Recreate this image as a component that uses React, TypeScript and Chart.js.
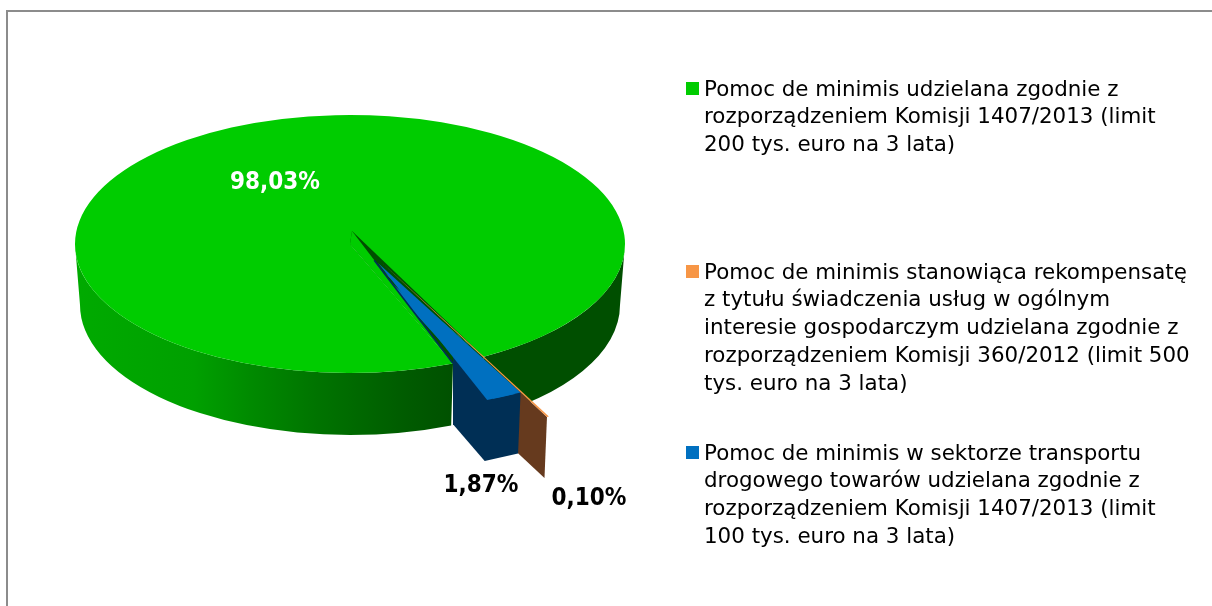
import React, { useEffect, useRef } from "react";
import { Chart, registerables } from "chart.js";

Chart.register(...registerables);

// ---- data ----
const categories = [
  "Pomoc de minimis udzielana zgodnie z rozporządzeniem Komisji 1407/2013 (limit 200 tys. euro na 3 lata)",
  "Pomoc de minimis stanowiąca rekompensatę z tytułu świadczenia usług w ogólnym interesie gospodarczym udzielana zgodnie z rozporządzeniem Komisji 360/2012 (limit 500 tys. euro na 3 lata)",
  "Pomoc de minimis w sektorze transportu drogowego towarów udzielana zgodnie z rozporządzeniem Komisji 1407/2013 (limit 100 tys. euro na 3 lata)",
];
const shares = [98.03, 0.1, 1.87];
const legendLines = [
  ["Pomoc de minimis udzielana zgodnie z", "rozporządzeniem Komisji 1407/2013 (limit", "200 tys. euro na 3 lata)"],
  [
    "Pomoc de minimis stanowiąca rekompensatę",
    "z tytułu świadczenia usług w ogólnym",
    "interesie gospodarczym udzielana zgodnie z",
    "rozporządzeniem Komisji 360/2012 (limit 500",
    "tys. euro na 3 lata)",
  ],
  [
    "Pomoc de minimis w sektorze transportu",
    "drogowego towarów udzielana zgodnie z",
    "rozporządzeniem Komisji 1407/2013 (limit",
    "100 tys. euro na 3 lata)",
  ],
];

// ---- styling / layout ----
const W = 1212;
const H = 606;
const topColors = ["#00cc00", "#f79646", "#0070c0"];
const sliceOffsets = [0, 280, 180];
const FONT = '"DejaVu Sans", sans-serif';
const LABEL_FONT = '"DejaVu Sans Condensed", "DejaVu Sans", sans-serif';
const CX = 350;
const CY = 244;
const R = 275;
const RY = 129;
const SQ = RY / R;
const BOTTOM = { cy: 305, rx: 270, ry: 130 };
const DEPTH = { x: -2.5, y: 61 };
const APEX = { x: 352, y: 231 };
const ORANGE_NUDGE = { x: -2.5, y: 2.5 };
const BLUE_APEX_SHIFT = { x: 8.7, y: 0 };
const ORANGE_APEX_SHIFT = { x: 0, y: -13 };
const LEGEND_X = 704;
const MARKER_X = 686;
const LINE_H = 27.75;
const legendBaselines = [95.5, 278.5, 459.5];
const labelSpots = [
  { x: 275, y: 183, color: "#ffffff" },
  { x: 589, y: 499, color: "#000000" },
  { x: 481, y: 486, color: "#000000" },
];

type P = { x: number; y: number };

const sideGreen = (ctx: CanvasRenderingContext2D) => {
  const g = ctx.createLinearGradient(80, 0, 460, 0);
  g.addColorStop(0, "#00aa00");
  g.addColorStop(0.3, "#00a000");
  g.addColorStop(0.45, "#008a00");
  g.addColorStop(0.62, "#007400");
  g.addColorStop(0.85, "#005c00");
  g.addColorStop(1, "#004f00");
  return g;
};

const rimPoint = (t: number): P => ({ x: CX + R * Math.cos(t), y: CY + RY * Math.sin(t) });

// screen position of a slice's apex / rim corners, as Chart.js' ArcElement offsets it
const sliceGeom = (arc: any, nudge: P = { x: 0, y: 0 }) => {
  const d = (arc.options.offset || 0) / 4;
  const mid = (arc.startAngle + arc.endAngle) / 2;
  const fix = 1 - Math.sin(Math.min(Math.PI, arc.circumference));
  const rr = arc.outerRadius + d * fix;
  const ox = Math.cos(mid) * d;
  const oy = Math.sin(mid) * d;
  const pt = (t: number): P => ({
    x: CX + nudge.x + ox + rr * Math.cos(t),
    y: CY + nudge.y + (oy + rr * Math.sin(t)) * SQ,
  });
  return {
    apex: { x: CX + nudge.x + ox, y: CY + nudge.y + oy * SQ },
    start: pt(arc.startAngle),
    end: pt(arc.endAngle),
  };
};

const poly = (ctx: CanvasRenderingContext2D, pts: P[], fill: string) => {
  ctx.beginPath();
  pts.forEach((p, i) => (i ? ctx.lineTo(p.x, p.y) : ctx.moveTo(p.x, p.y)));
  ctx.closePath();
  ctx.fillStyle = fill;
  ctx.fill();
};

const down = (p: P): P => ({ x: p.x + DEPTH.x, y: p.y + DEPTH.y });
const plus = (p: P, q: P): P => ({ x: p.x + q.x, y: p.y + q.y });
const lerp = (a: P, b: P, t: number): P => ({ x: a.x + (b.x - a.x) * t, y: a.y + (b.y - a.y) * t });

const wallSection = (ctx: CanvasRenderingContext2D, a: number, b: number, fill: any) => {
  ctx.beginPath();
  ctx.ellipse(CX, CY, R, RY, 0, a, b, false);
  ctx.ellipse(CX, BOTTOM.cy, BOTTOM.rx, BOTTOM.ry, 0, b, a, true);
  ctx.closePath();
  ctx.fillStyle = fill;
  ctx.fill();
};

const pie3d = {
  id: "pie3d",
  beforeDraw(chart: any) {
    const ctx = chart.ctx as CanvasRenderingContext2D;
    ctx.save();
    ctx.fillStyle = "#ffffff";
    ctx.fillRect(0, 0, W, H);
    ctx.fillStyle = "#8c8c8c";
    ctx.fillRect(6, 10, 2, H);
    ctx.fillRect(6, 10, W, 2);
    ctx.restore();
  },
  beforeDatasetDraw(chart: any, args: any) {
    const ctx = chart.ctx as CanvasRenderingContext2D;
    const arcs = args.meta.data;
    const [green, orange, blue] = arcs;
    const o = sliceGeom(orange, ORANGE_NUDGE);
    const b = sliceGeom(blue);
    const gStart = green.startAngle;
    const gEnd = green.endAngle - 2 * Math.PI;
    const rimL = rimPoint(gStart);
    const rimR = rimPoint(gEnd);
    const center = { x: CX, y: CY };
    const orangeApex = plus(o.apex, ORANGE_APEX_SHIFT);

    const drawTop = (arc: any, nudge: P = { x: 0, y: 0 }) => {
      ctx.save();
      ctx.translate(CX + nudge.x, CY + nudge.y);
      ctx.scale(1, SQ);
      ctx.translate(-arc.x, -arc.y);
      arc.draw(ctx, chart.chartArea);
      ctx.restore();
    };

    const navy = "#002f55";
    const dark = "#004f00";
    // inside of the notch left by the exploded slices
    poly(ctx, [center, rimR, down(rimR), rimL], dark);
    // outer walls of the big slice
    wallSection(ctx, gStart, Math.PI, sideGreen(ctx));
    wallSection(ctx, 0, gEnd, dark);
    // top of big slice and the sliver of its radial wall
    drawTop(green);
    poly(ctx, [APEX, rimR, center], dark);
    // orange wall, reaching behind the blue slice
    ctx.save();
    ctx.beginPath();
    ctx.rect(b.start.x - 6, 0, W, H);
    ctx.clip();
    poly(ctx, [orangeApex, o.end, down(o.end), down(orangeApex)], "#663a1e");
    ctx.restore();
    // blue walls, in front of green side
    ctx.save();
    ctx.beginPath();
    ctx.rect(rimL.x, 0, W, H);
    ctx.clip();
    poly(ctx, [b.apex, b.start, down(b.start), down(b.end), down(b.apex)], navy);
    ctx.restore();
    // tops of the exploded slices, with their apexes pulled back for the perspective
    drawTop(orange, ORANGE_NUDGE);
    drawTop(blue);
    const blueApex = plus(b.apex, BLUE_APEX_SHIFT);
    poly(ctx, [blueApex, b.end, b.start], topColors[2]);
    poly(ctx, [orangeApex, o.end, o.start], topColors[1]);
    // big slice in front of what runs past its left cut edge
    poly(ctx, [APEX, rimL, center], topColors[0]);
    ctx.beginPath();
    const s = lerp(APEX, rimL, 0.22);
    ctx.moveTo(s.x, s.y);
    ctx.lineTo(rimL.x, rimL.y);
    ctx.strokeStyle = navy;
    ctx.lineWidth = 1.6;
    ctx.stroke();
    return false;
  },
  afterDatasetsDraw(chart: any) {
    const ctx = chart.ctx as CanvasRenderingContext2D;
    ctx.save();
    ctx.textAlign = "center";
    ctx.textBaseline = "middle";
    ctx.font = `bold 24px ${LABEL_FONT}`;
    shares.forEach((v, i) => {
      ctx.fillStyle = labelSpots[i].color;
      ctx.fillText(v.toFixed(2).replace(".", ",") + "%", labelSpots[i].x, labelSpots[i].y);
    });
    ctx.textAlign = "left";
    ctx.textBaseline = "alphabetic";
    ctx.font = `21.4px ${FONT}`;
    legendLines.forEach((lines, i) => {
      const base = legendBaselines[i];
      ctx.fillStyle = topColors[i];
      ctx.fillRect(MARKER_X, Math.round(base - 14), 13, 13);
      ctx.fillStyle = "#000000";
      lines.forEach((line, j) => ctx.fillText(line, LEGEND_X, base + j * LINE_H));
    });
    ctx.restore();
  },
};

export default function App() {
  const ref = useRef<HTMLCanvasElement | null>(null);
  useEffect(() => {
    if (!ref.current) return;
    const chart = new Chart(ref.current, {
      type: "pie",
      data: {
        labels: categories,
        datasets: [
          {
            data: shares,
            backgroundColor: topColors,
            borderWidth: 0,
            offset: sliceOffsets,
            clip: false,
          } as any,
        ],
      },
      options: {
        responsive: false,
        animation: false,
        rotation: 158,
        radius: R,
        events: [],
        layout: { padding: 0 },
        plugins: { legend: { display: false }, tooltip: { enabled: false }, title: { display: false } },
      } as any,
      plugins: [pie3d],
    });
    return () => chart.destroy();
  }, []);
  return <canvas ref={ref} width={W} height={H} style={{ position: "fixed", left: 0, top: 0, display: "block" }} />;
}
